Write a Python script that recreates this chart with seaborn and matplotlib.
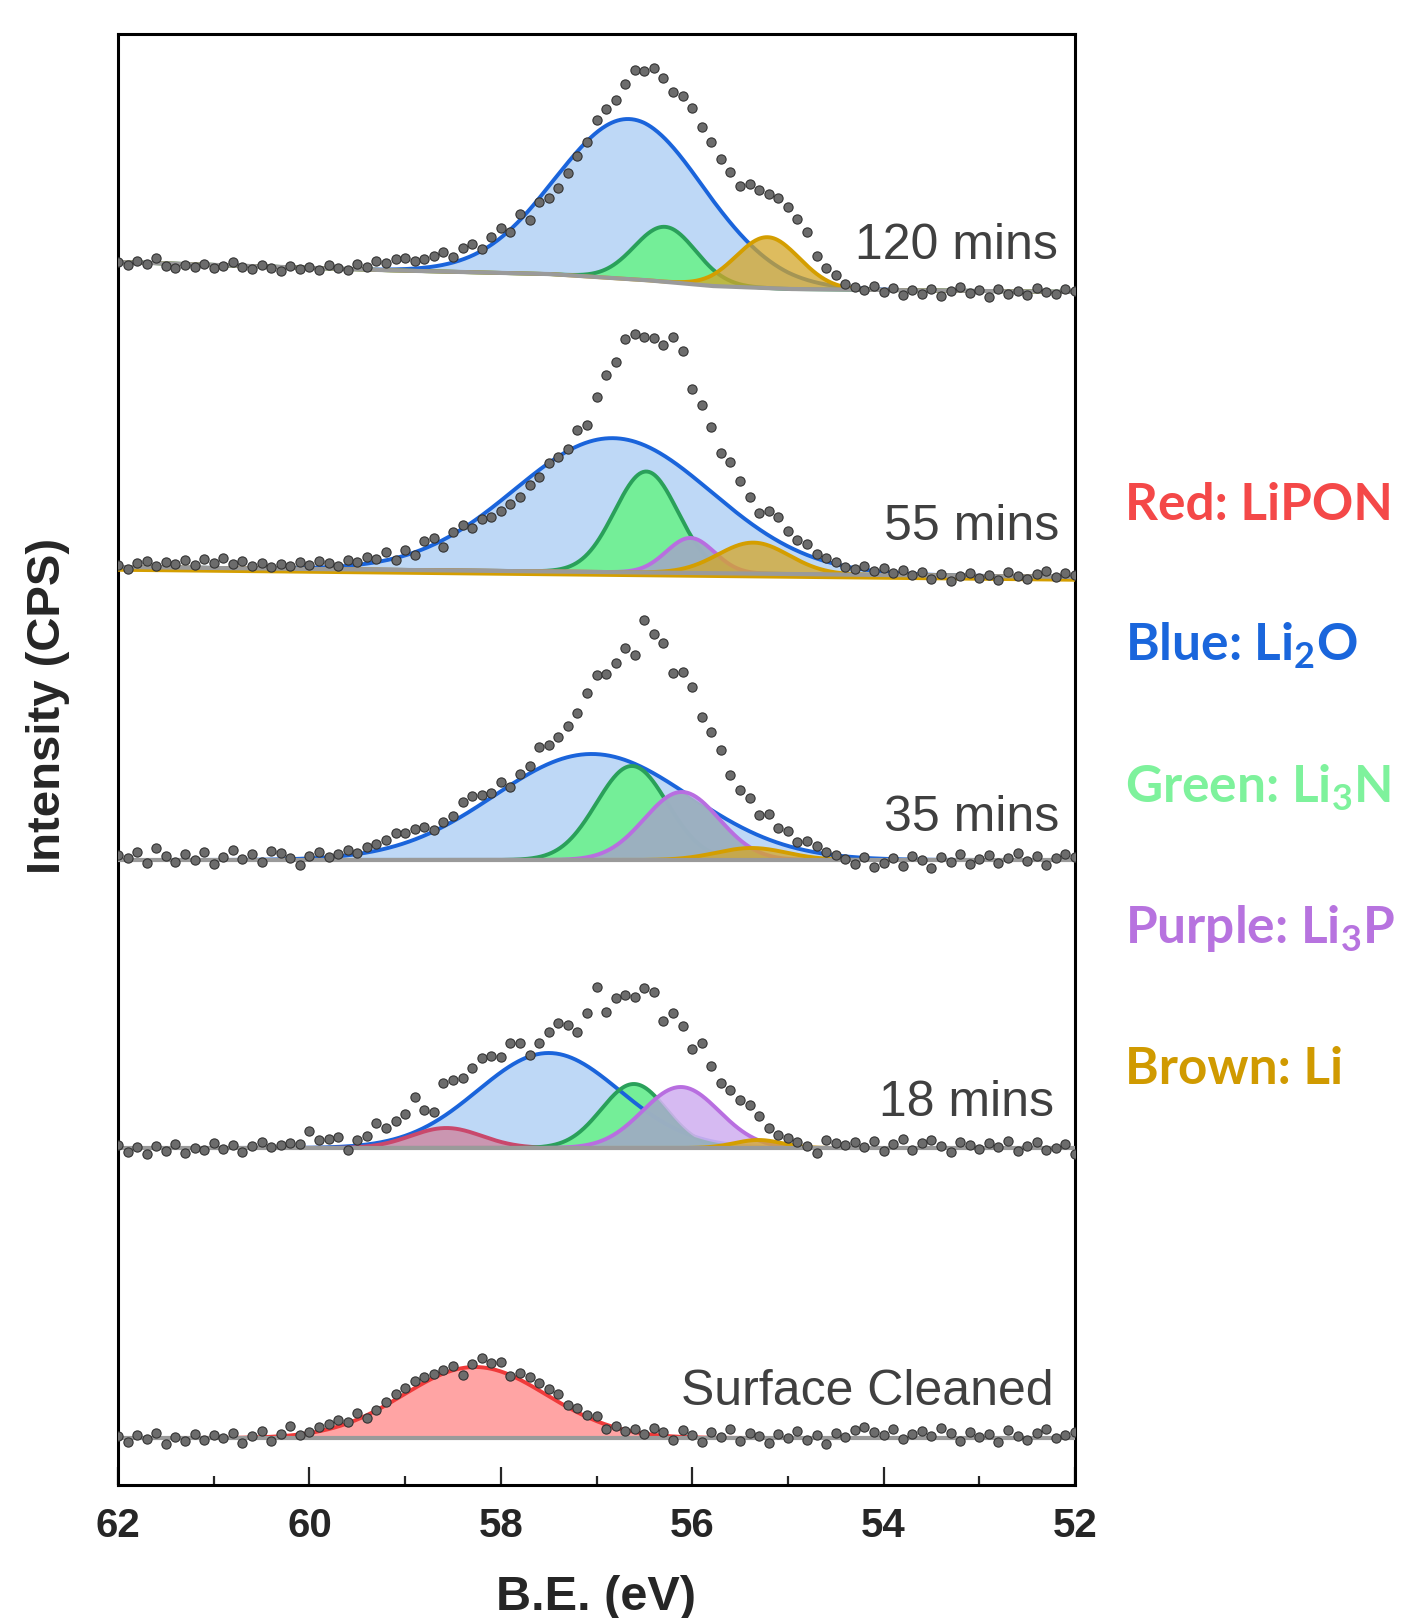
import numpy as np
import matplotlib.pyplot as plt
import seaborn as sns

sns.set_style("white")
plt.rcParams['font.family'] = ['Liberation Sans', 'DejaVu Sans']
plt.rcParams['mathtext.fontset'] = 'custom'
plt.rcParams['mathtext.rm'] = 'Lato:bold'

# energy axis of the scans (eV), 0.1 eV steps from 62 down to 52
binding_energy = np.round(np.linspace(62.0, 52.0, 101), 1)

# measured points (counts above each curve's own offset)
counts_120 = [30, 27, 31, 28, 34, 26, 24, 27, 25, 28,
              24, 26, 30, 25, 23, 27, 24, 21, 26, 23,
              25, 22, 27, 24, 22, 28, 25, 31, 29, 33,
              34, 31, 33, 36, 40, 35, 44, 48, 43, 55,
              64, 60, 78, 72, 90, 94, 104, 119, 136, 150,
              172, 183, 192, 208, 222, 221, 224, 214, 200, 196,
              184, 165, 150, 133, 120, 106, 108, 102, 98, 94,
              85, 73, 60, 36, 24, 17, 8, 5, 2, 6,
              0, 4, -3, 2, -2, 3, -4, 1, 5, -1,
              2, -5, 3, -2, 1, -3, 4, 0, -2, 3, 1]
counts_55 = [12, 8, 14, 16, 11, 15, 13, 17, 12, 18,
             14, 19, 13, 16, 11, 14, 10, 13, 11, 15,
             12, 16, 14, 11, 17, 15, 20, 18, 25, 17,
             27, 22, 36, 39, 30, 45, 52, 49, 58, 60,
             66, 73, 80, 92, 100, 114, 120, 128, 147, 152,
             180, 202, 215, 238, 243, 240, 239, 232, 240, 226,
             188, 172, 150, 124, 115, 96, 80, 64, 66, 60,
             46, 37, 33, 23, 19, 15, 10, 8, 11, 6,
             9, 4, 7, 2, 5, -2, 3, -4, 1, 4,
             -1, 2, -3, 5, 1, -2, 3, 6, 0, 4, 2]
counts_35 = [5, 2, 8, -3, 12, 4, -2, 6, 0, 8,
             -4, 3, 10, 1, 6, -2, 9, 7, 2, -5,
             4, 8, 3, 6, 10, 7, 13, 16, 20, 27,
             27, 31, 33, 30, 38, 44, 58, 64, 65, 67,
             78, 73, 86, 94, 113, 115, 123, 134, 147, 167,
             185, 186, 197, 212, 205, 240, 226, 217, 187, 188,
             173, 143, 128, 110, 85, 70, 62, 45, 46, 32,
             29, 18, 19, 14, 8, 5, 1, -4, 3, -7,
             -3, 2, -6, 4, 0, -8, 3, -2, 6, -4,
             1, 5, -3, 2, 7, -1, 4, -5, 2, 6, 3]
counts_18 = [3, -4, 1, -6, 2, -3, 4, -5, 0, -2,
             5, -1, 3, -4, 2, 6, 1, 3, 5, 4,
             17, 8, 9, 11, -2, 8, 12, 25, 20, 27,
             34, 51, 38, 36, 65, 68, 70, 80, 90, 92,
             91, 105, 105, 93, 105, 116, 125, 123, 116, 135,
             161, 136, 150, 153, 151, 160, 156, 127, 135, 122,
             99, 105, 82, 65, 58, 48, 43, 32, 20, 13,
             10, 6, 2, -5, 8, 5, 3, 6, 1, 7,
             -3, 4, 9, -2, 5, 8, 2, -4, 6, 3,
             -1, 5, 1, 7, -3, 2, 6, -2, 0, 4, -6]
counts_sc = [2, -4, 3, -1, 5, -6, 1, -3, 4, -2,
             3, 0, 5, -5, 2, 7, -3, 4, 12, 3,
             6, 11, 14, 18, 16, 25, 20, 28, 36, 44,
             50, 57, 61, 64, 68, 72, 63, 74, 80, 75,
             76, 62, 65, 61, 55, 49, 44, 33, 30, 23,
             22, 9, 12, 7, 9, 4, 10, 6, -2, 8,
             3, -4, 6, 1, 9, -3, 5, 2, -5, 4,
             0, 7, -2, 3, -6, 5, 1, 8, 11, 6,
             3, 9, -1, 4, 7, 2, 10, 5, -3, 6,
             1, 4, -4, 8, 2, -2, 5, 9, 0, 3, 6]

labels = ['120 mins', '55 mins', '35 mins', '18 mins', 'Surface Cleaned']
offsets = [1193, 908, 625, 337, 47]

# background knots (eV, counts)
bg_120_x, bg_120_y = [62, 59.3, 57.5, 56.5, 55.8, 55.0, 54.0, 52], [30, 22, 18, 12, 6, 3, 2, 0]
bg_55_x, bg_55_y = [62, 52], [10, 0]
bg_flat_x, bg_flat_y = [62, 52], [0, 0]

# fitted components: species, centre (eV), height, sigma (eV)
fit_120_species = ['Li2O', 'Li3N', 'Li']
fit_120_center = [56.65, 56.28, 55.21]
fit_120_height = [160, 55, 51]
fit_120_sigma = [0.775, 0.32, 0.33]

fit_55_species = ['Li2O', 'Li3N', 'Li3P', 'Li']
fit_55_center = [56.83, 56.48, 56.02, 55.36]
fit_55_height = [134, 101, 35, 31]
fit_55_sigma = [1.03, 0.33, 0.25, 0.37]

fit_35_species = ['Li2O', 'Li3N', 'Li3P', 'Li']
fit_35_center = [57.05, 56.63, 56.11, 55.38]
fit_35_height = [106, 94, 68, 12]
fit_35_sigma = [1.02, 0.37, 0.39, 0.37]

fit_18_species = ['LiPON', 'Li2O', 'Li3N', 'Li3P', 'Li']
fit_18_center = [58.57, 57.50, 56.61, 56.12, 55.31]
fit_18_height = [20, 95, 64, 61, 8]
fit_18_sigma = [0.37, 0.74, 0.34, 0.40, 0.25]

fit_sc_species = ['LiPON']
fit_sc_center = [58.27]
fit_sc_height = [71]
fit_sc_sigma = [0.75]

spectra = [
    (counts_120, bg_120_x, bg_120_y, fit_120_species, fit_120_center, fit_120_height, fit_120_sigma),
    (counts_55, bg_55_x, bg_55_y, fit_55_species, fit_55_center, fit_55_height, fit_55_sigma),
    (counts_35, bg_flat_x, bg_flat_y, fit_35_species, fit_35_center, fit_35_height, fit_35_sigma),
    (counts_18, bg_flat_x, bg_flat_y, fit_18_species, fit_18_center, fit_18_height, fit_18_sigma),
    (counts_sc, bg_flat_x, bg_flat_y, fit_sc_species, fit_sc_center, fit_sc_height, fit_sc_sigma),
]

line_col = {'Li2O': '#1a64db', 'Li3N': '#2aa05a', 'Li3P': '#b86ee0', 'Li': '#d49e00', 'LiPON': '#f03a3a'}
fill_col = {'Li2O': '#bed8f6', 'Li3N': '#74ee98', 'Li3P': '#d2b3f1', 'Li': '#d4a628', 'LiPON': '#ff9a9a'}

fig = plt.figure(figsize=(14.1, 16.18), dpi=100)
ax = fig.add_axes([0.0837, 0.0822, 0.6787, 0.8968])

fine = np.linspace(62, 52, 1001)

for i, (counts, bx, by, species, cen, hgt, sig) in enumerate(spectra):
    off = offsets[i]
    base = off + np.interp(fine, bx[::-1], by[::-1])
    comps = {}
    for sp, c, h, s in zip(species, cen, hgt, sig):
        comps[sp] = h * np.exp(-0.5 * ((fine - c) / s) ** 2)

    red_line = line_col['LiPON'] if i == 4 else '#c9486c'
    red_fill = fill_col['LiPON'] if i == 4 else '#cc8faa'

    # bottom layers: Li2O, LiPON, Li3N
    for sp, z in [('Li2O', 1.0), ('LiPON', 1.2), ('Li3N', 1.4)]:
        if sp in comps:
            fc = red_fill if sp == 'LiPON' else fill_col[sp]
            ax.fill_between(fine, base, base + comps[sp], color=fc, lw=0,
                            alpha=0.9 if sp == 'LiPON' else 1.0, zorder=z)
    for sp in ['Li2O', 'LiPON', 'Li3N']:
        if sp in comps:
            lc = red_line if sp == 'LiPON' else line_col[sp]
            sns.lineplot(x=fine, y=base + comps[sp], ax=ax, color=lc, lw=2.8,
                         sort=False, legend=False, zorder=2)

    if 'Li3P' in comps:
        p = comps['Li3P']
        under = np.maximum(comps.get('Li2O', 0 * p), comps.get('Li3N', 0 * p))
        ax.fill_between(fine, base, base + p, color=fill_col['Li3P'], lw=0, alpha=0.9, zorder=2.2)
        ax.fill_between(fine, base, base + np.minimum(p, under), color='#93afb9', lw=0,
                        alpha=0.85, zorder=2.3)
        sns.lineplot(x=fine, y=base + p, ax=ax, color=line_col['Li3P'], lw=2.8,
                     sort=False, legend=False, zorder=2.5)

    if 'Li' in comps:
        ax.fill_between(fine, base, base + comps['Li'], color=fill_col['Li'], lw=0,
                        alpha=0.75, zorder=2.6)
        sns.lineplot(x=fine, y=base + comps['Li'], ax=ax, color=line_col['Li'], lw=2.8,
                     sort=False, legend=False, zorder=2.7)
        if i == 1:
            sns.lineplot(x=fine, y=base - 3, ax=ax, color='#d49e00', lw=2.5,
                         sort=False, legend=False, zorder=2.8)

    sns.lineplot(x=fine, y=base, ax=ax, color='#9a9a9a', lw=3, sort=False,
                 legend=False, zorder=3)

    sns.scatterplot(x=binding_energy, y=off + np.array(counts), ax=ax, s=44,
                    color='#6c6c6c', edgecolor='#333333', linewidth=0.8, zorder=4)

# curve labels
label_pos = [(52.18, 1239), (52.16, 958), (52.16, 667), (52.22, 382), (52.22, 93)]
for lab, (lx, ly) in zip(labels, label_pos):
    ax.text(lx, ly, lab, ha='right', va='center', fontsize=36, color='#404040',
            family=['Liberation Sans', 'DejaVu Sans'], zorder=5)

ax.set_xlim(62, 52)
ax.set_ylim(0, 1451)
ax.set_yticks([])
ax.set_xticks([62, 60, 58, 56, 54, 52])
ax.set_xticks([61, 59, 57, 55, 53], minor=True)
ax.tick_params(axis='x', which='major', direction='in', length=13, width=1.6,
               pad=16, labelsize=29, bottom=True, top=False)
ax.tick_params(axis='x', which='minor', direction='in', length=6.5, width=1.6,
               bottom=True, top=False)
for t in ax.get_xticklabels():
    t.set_fontweight('bold')
for sp in ax.spines.values():
    sp.set_linewidth(2.2)
    sp.set_color('black')

fig.text(596 / 1410, 1 - 1597 / 1618, 'B.E. (eV)', ha='center', va='center',
         fontsize=35, fontweight='bold')
fig.text(48 / 1410, 1 - 706 / 1618, 'Intensity (CPS)', ha='center', va='center',
         rotation=90, fontsize=34, fontweight='bold')

legend_items = [('Red: LiPON', '#f44848', 506),
                ('Blue: Li$_\\mathregular{2}$O', '#1a66dc', 646),
                ('Green: Li$_\\mathregular{3}$N', '#7ef29c', 788),
                ('Purple: Li$_\\mathregular{3}$P', '#b773df', 929),
                ('Brown: Li', '#d09a00', 1069)]
for txt, col, ypx in legend_items:
    fig.text(1125 / 1410, 1 - ypx / 1618, txt, ha='left', va='center', color=col,
             fontsize=37, fontweight='bold', family=['Lato', 'DejaVu Sans'])

fig.savefig('out.png', dpi=100)
